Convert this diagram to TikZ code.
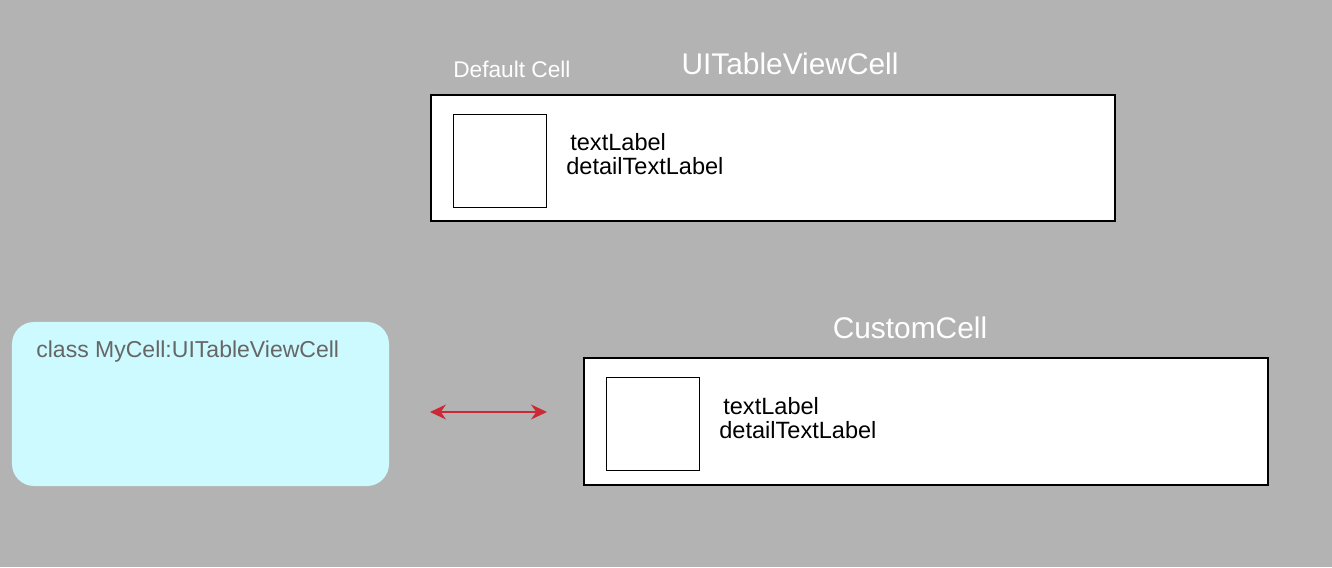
\documentclass[tikz,border=0pt]{standalone}
\usepackage{fontspec}
\setmainfont{Liberation Sans}
\usepackage{tikz}
\usepackage{xcolor}
\usetikzlibrary{arrows.meta, positioning}
\definecolor{bggray}{RGB}{179, 179, 179}
\definecolor{cellcyan}{RGB}{204, 250, 255}
\definecolor{classgray}{RGB}{102, 102, 102}
\definecolor{linkred}{RGB}{204, 41, 54}

\begin{document}
\begin{tikzpicture}[
    cell/.style={rectangle, draw=black, fill=white, line width=1.1pt, minimum width=13.68cm, minimum height=2.53cm, inner sep=0pt},
    img/.style={rectangle, draw=black, fill=white, line width=0.5pt, minimum size=1.86cm, inner sep=0pt},
    lbl/.style={anchor=west, inner sep=0pt, font=\fontsize{13.4}{15}\selectfont},
    title/.style={text=white, inner sep=0pt, font=\fontsize{17}{19}\selectfont},
    classbox/.style={rectangle, rounded corners=0.44cm, fill=cellcyan, minimum width=7.54cm, minimum height=3.28cm},
    link/.style={line width=1.1pt, linkred, {Stealth[length=3.2mm, width=3mm]}-{Stealth[length=3.2mm, width=3mm]}}
]

\fill[bggray] (0,0) rectangle (26.64,11.34);

% Default cell (top)
\node[cell] (default) at (15.46,8.18) {};
\node[img] (dimg) at (9.99,8.13) {};
\node[lbl] (dtext) at (11.4,8.5) {textLabel};
\node[lbl] (ddetail) at (11.32,8.02) {detailTextLabel};
\node[title, anchor=west, font=\fontsize{12.9}{15}\selectfont] (dname) at (9.06,9.96) {Default Cell};
\node[title] (dtitle) at (15.8,10.06) {UITableViewCell};

% Custom cell (bottom)
\node[cell] (custom) at (18.52,2.91) {};
\node[img] (cimg) at (13.05,2.87) {};
\node[lbl] (ctext) at (14.46,3.22) {textLabel};
\node[lbl] (cdetail) at (14.38,2.74) {detailTextLabel};
\node[title] (ctitle) at (18.2,4.78) {CustomCell};

% Class (left)
\node[classbox] (mycell) at (4.01,3.26) {};
\node[lbl, text=classgray, font=\fontsize{13.1}{15}\selectfont] (mytext) at (0.72,4.3) {class MyCell:UITableViewCell};

% Link
\coordinate (lend) at (8.6,3.1);
\coordinate (rend) at (10.94,3.1);
\draw[link] (lend) -- (rend);

\end{tikzpicture}
\end{document}
